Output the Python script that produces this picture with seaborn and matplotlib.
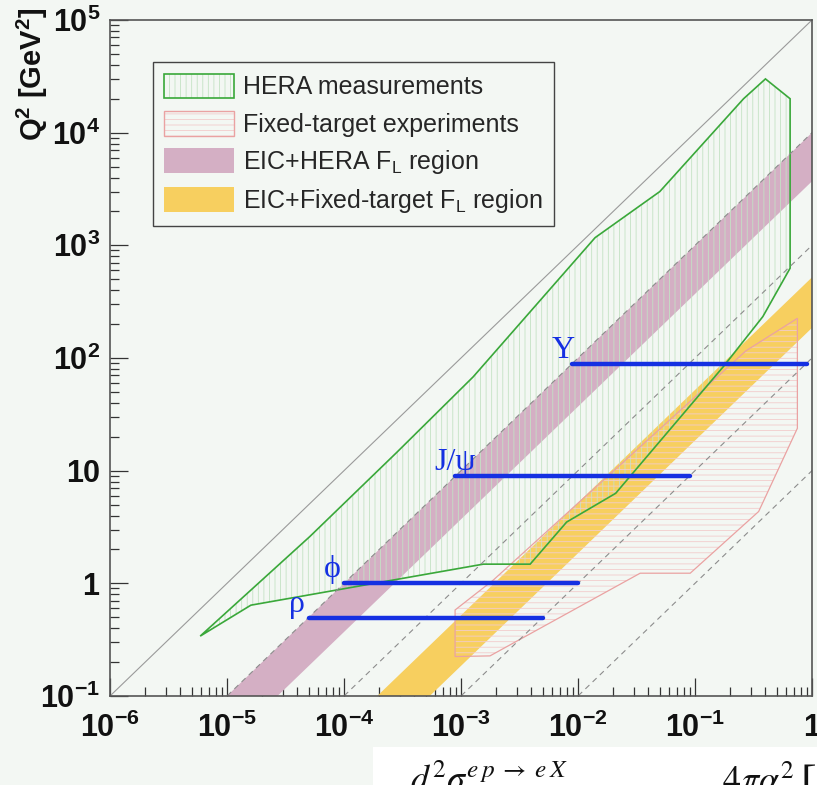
import numpy as np
import pandas as pd
import matplotlib
matplotlib.use("Agg")
import matplotlib.pyplot as plt
import seaborn as sns
from matplotlib.patches import Patch, Rectangle
from matplotlib.ticker import FixedLocator, FixedFormatter, LogLocator, NullFormatter

# ---------------- data ----------------
# HERA measured region, outline in (x, Q^2)
hera_x = [5.9e-6, 1.6e-5, 1.3e-4, 1.55e-3, 3.9e-3, 8.0e-3, 2.1e-2, 0.175, 0.38, 0.65,
          0.65, 0.40, 0.26, 0.050, 0.014, 1.27e-3, 2.8e-4, 5.1e-5]
hera_q2 = [0.34, 0.64, 0.94, 1.48, 1.48, 3.5, 6.3, 84, 233, 627,
           2.0e4, 3.0e4, 2.0e4, 3.0e3, 1.17e3, 68, 14.4, 2.6]

# fixed-target experiments region
ft_x = [8.9e-4, 1.77e-3, 0.034, 0.091, 0.35, 0.75, 0.75, 0.273, 1.89e-3, 8.9e-4]
ft_q2 = [0.224, 0.227, 1.23, 1.23, 4.34, 23.8, 225, 116, 1.07, 0.58]

# F_L bands as Q^2/x ranges (lower, upper)
eic_hera_band = [3.7e3, 1.0e4]
eic_ft_band = [185.0, 520.0]

# kinematic limits Q^2 = s*x
kin_limit = 1.0e5
dashed_limits = [1.0e4, 1.0e3, 1.0e2, 1.0e1]

# vector mesons: Q^2 scale and x reach
mesons = ["ρ", "ϕ", "J/ψ", "Υ"]
meson_q2 = [0.49, 1.0, 8.9, 89.0]
meson_xmin = [5.0e-5, 1.0e-4, 8.8e-4, 8.8e-3]
meson_xmax = [5.0e-3, 1.0e-2, 9.0e-2, 0.91]

x_ticks = [1e-6, 1e-5, 1e-4, 1e-3, 1e-2, 1e-1, 1.0]
x_tick_labels = [r"$\mathbf{10^{-6}}$", r"$\mathbf{10^{-5}}$", r"$\mathbf{10^{-4}}$",
                 r"$\mathbf{10^{-3}}$", r"$\mathbf{10^{-2}}$", r"$\mathbf{10^{-1}}$", r"$\mathbf{1}$"]
y_ticks = [1e-1, 1.0, 10.0, 1e2, 1e3, 1e4, 1e5]
y_tick_labels = [r"$\mathbf{10^{-1}}$", r"$\mathbf{1}$", r"$\mathbf{10}$", r"$\mathbf{10^{2}}$",
                 r"$\mathbf{10^{3}}$", r"$\mathbf{10^{4}}$", r"$\mathbf{10^{5}}$"]

legend_labels = ["HERA measurements", "Fixed-target experiments",
                 r"EIC+HERA F$_{\mathrm{L}}$ region", r"EIC+Fixed-target F$_{\mathrm{L}}$ region"]

# ---------------- style ----------------
sns.set_theme(style="ticks")
plt.rcParams["font.family"] = ["Liberation Sans", "DejaVu Sans"]
plt.rcParams.update({
    "mathtext.fontset": "custom",
    "mathtext.rm": "Liberation Sans",
    "mathtext.bf": "Liberation Sans:bold",
    "mathtext.it": "Liberation Sans:italic",
    "hatch.linewidth": 0.6,
})

BG = "#f3f7f3"
PINK = "#d4afc4"
YELLOW = "#f7cf5f"
HERA_LINE = "#3aa83a"
HERA_HATCH = "#c4e2c4"
FT_LINE = "#eaa2a2"
FT_HATCH = "#f2cccc"
BLUE = "#1530e2"

fig = plt.figure(figsize=(8.17, 7.85), dpi=100, facecolor=BG)
ax = fig.add_axes([110 / 817, 89 / 785, 702 / 817, 676 / 785])
ax.set_facecolor(BG)
ax.set_xscale("log")
ax.set_yscale("log")

# F_L bands
xs = np.array([1e-7, 10.0])
for (lo, hi), col in [(eic_hera_band, PINK), (eic_ft_band, YELLOW)]:
    ax.fill_between(xs, lo * xs, hi * xs, color=col, lw=0, zorder=1)

# measured regions: hatching then outline
ax.fill(hera_x, hera_q2, facecolor="none", edgecolor=HERA_HATCH, hatch="|||", lw=0, zorder=2)
ax.fill(ft_x, ft_q2, facecolor="none", edgecolor=FT_HATCH, hatch="---", lw=0, zorder=2)
ax.fill(ft_x, ft_q2, fill=False, edgecolor=FT_LINE, lw=0.9, zorder=3)
ax.fill(hera_x, hera_q2, fill=False, edgecolor=HERA_LINE, lw=1.2, zorder=3)

# kinematic limits
ax.plot(xs, kin_limit * xs, color="#9a9a9a", lw=0.8, zorder=3)
for c in dashed_limits:
    ax.plot(xs, c * xs, color="#8c8c8c", lw=0.8, ls=(0, (5, 4)), zorder=3)

# vector meson reach
df = pd.DataFrame({
    "meson": np.repeat(mesons, 2),
    "x": np.ravel(np.column_stack([meson_xmin, meson_xmax])),
    "Q2": np.repeat(meson_q2, 2),
})
sns.lineplot(data=df, x="x", y="Q2", units="meson", estimator=None, sort=False,
             color=BLUE, lw=3.2, ax=ax, zorder=5, legend=False)
for name, x0, q in zip(mesons, meson_xmin, meson_q2):
    ax.annotate(name, xy=(x0, q), xytext=(-20, 6), textcoords="offset pixels",
                ha="left", va="baseline", color=BLUE, fontsize=23,
                family=["Liberation Serif", "DejaVu Serif"], zorder=6)

ax.set_xlim(1e-6, 1.0)
ax.set_ylim(0.1, 1e5)
ax.set_xlabel("")
ax.set_ylabel("")

# axes and ticks
ax.xaxis.set_major_locator(FixedLocator(x_ticks))
ax.xaxis.set_major_formatter(FixedFormatter(x_tick_labels))
ax.yaxis.set_major_locator(FixedLocator(y_ticks))
ax.yaxis.set_major_formatter(FixedFormatter(y_tick_labels))
for axis in (ax.xaxis, ax.yaxis):
    axis.set_minor_locator(LogLocator(base=10, subs=np.arange(2, 10), numticks=20))
    axis.set_minor_formatter(NullFormatter())
ax.tick_params(which="both", direction="in", top=False, right=False,
               color="#333333", width=0.9, labelsize=22, labelcolor="#111111")
ax.tick_params(which="major", length=13)
ax.tick_params(which="minor", length=6.5)
ax.tick_params(axis="x", which="major", pad=12)
ax.tick_params(axis="y", which="major", pad=7)
for s in ax.spines.values():
    s.set_color("#555555")
    s.set_linewidth(1.2)
    s.set_zorder(7)

ax.text(-0.11, 1.019, r"Q$\mathbf{^{2}}$ [GeV$\mathbf{^{2}}$]", transform=ax.transAxes,
        rotation=90, ha="center", va="top", fontsize=21, fontweight="bold", color="#111111")

# legend
handles = [
    (Patch(facecolor="none", edgecolor=HERA_HATCH, hatch="|||", lw=0),
     Patch(facecolor="none", edgecolor=HERA_LINE, lw=1.2)),
    (Patch(facecolor="none", edgecolor=FT_HATCH, hatch="---", lw=0),
     Patch(facecolor="none", edgecolor=FT_LINE, lw=1.0)),
    Patch(facecolor=PINK, edgecolor="none"),
    Patch(facecolor=YELLOW, edgecolor="none"),
]
leg = ax.legend(handles, legend_labels, loc="upper left", bbox_to_anchor=(0.0608, 0.9374),
                borderaxespad=0, fontsize=18, handlelength=2.82, handleheight=1.15,
                handletextpad=0.35, labelspacing=0.45, borderpad=0.45, frameon=True,
                fancybox=False, framealpha=1, edgecolor="#444444", facecolor=BG)
leg.get_frame().set_linewidth(1.0)
leg.set_zorder(8)

# cross-section formula below the frame
fig.patches.append(Rectangle((373 / 817, 0), 444 / 817, 38 / 785, transform=fig.transFigure,
                             facecolor="white", edgecolor="none", zorder=0))
fig.text(410 / 817, -6 / 785, r"$d^2\sigma^{e\,p\;\rightarrow\;e\,X}$", fontsize=26,
         math_fontfamily="stix", ha="left", va="baseline", color="#111111")
fig.text(722 / 817, -6 / 785, r"$4\pi\alpha^2$", fontsize=26,
         math_fontfamily="stix", ha="left", va="baseline", color="#111111")
fig.text(800 / 817, -12 / 785, "[", fontsize=34, family="Liberation Serif",
         ha="left", va="baseline", color="#111111")

fig.savefig("out.png", dpi=100, facecolor=BG)
